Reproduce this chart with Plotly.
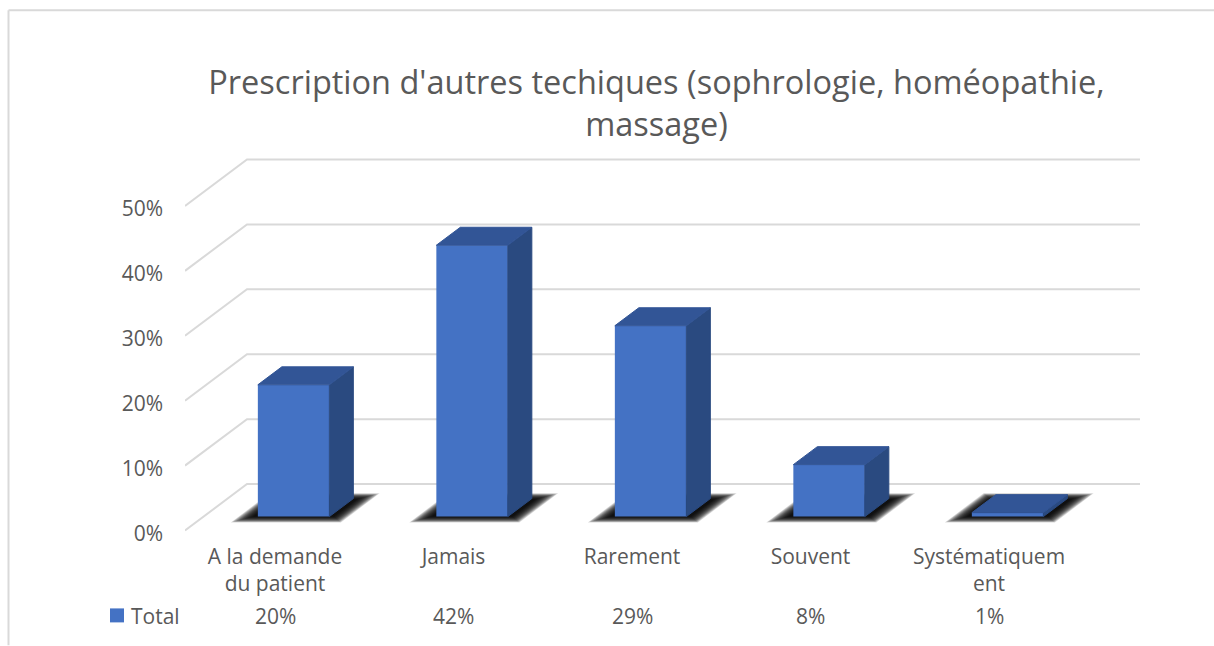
import plotly.graph_objects as go

# ---- data ----
categories = ["A la demande<br>du patient", "Jamais", "Rarement", "Souvent", "Systématiquem<br>ent"]
values = [20.3, 41.8, 29.4, 8.0, 0.6]
table_labels = ["20%", "42%", "29%", "8%", "1%"]
y_ticks = [0, 10, 20, 30, 40, 50]
y_tick_labels = ["0%", "10%", "20%", "30%", "40%", "50%"]
series_name = "Total"
title_text = "Prescription d'autres techiques (sophrologie, homéopathie,<br>massage)"

# ---- style / projection ----
W, H = 1214, 646
L, R, T, B = 185, 1140, 150, 531
PX_X = 178.5   # pixels per category
PX_Y = 6.5     # pixels per percent
Y_LOW = -1     # lower end of the value axis, leaves room for the label nudge
PLOT_B = B - Y_LOW * PX_Y
FONT = "Open Sans"
TXT = "#595959"
GRID = "#D9D9D9"
FRONT, SIDE, TOP = "#4472C4", "#2A4A80", "#325596"
LABEL_NUDGE = 3 / PX_Y  # the font's labels sit high; drop them to the reference position

DX = 62 / PX_X          # whole depth of the 3D box, in x units
DY = 46.5 / PX_Y        # whole depth of the 3D box, in y units
BAR_W = 71.5 / PX_X
D0, D1 = 0.30, 0.687    # bar depth extent (fraction of the box)


def proj(x, v, d):
    return x + DX * d, v + DY * d


def path(points):
    return "M " + " L ".join(f"{a:.4f},{b:.4f}" for a, b in points) + " Z"


def px(x):
    return (x - L) / (R - L)


def py(y):
    return (PLOT_B - y) / (PLOT_B - T)


x_pos = list(range(len(categories)))
xmin = (L - 275) / PX_X
xmax = (R - 275) / PX_X
ymax = (B - T) / PX_Y

shapes = []
# frame
for x0, y0, x1, y1 in [(8.5, 646, 8.5, 10), (8.5, 10, 1214, 10)]:
    shapes.append(dict(type="line", xref="paper", yref="paper",
                       x0=px(x0), x1=px(x1), y0=py(y0), y1=py(y1),
                       line=dict(color=GRID, width=2), layer="below"))
# legend key
shapes.append(dict(type="rect", xref="paper", yref="paper", x0=px(110), x1=px(124),
                   y0=py(623), y1=py(609), fillcolor=FRONT, line=dict(width=0)))
# gridlines (side wall + back wall)
for t in y_ticks:
    bx, by = proj(xmin, t, 1)
    shapes.append(dict(type="path", xref="x", yref="y", layer="below",
                       path=f"M {xmin:.4f},{t} L {bx:.4f},{by:.4f} L {xmax:.4f},{by:.4f}",
                       line=dict(color=GRID, width=2)))
# floor shadows (soft edge built from nested translucent layers)
for i in x_pos:
    for k in range(16):
        w = (55 - k * 1.0) / PX_X
        d_a, d_b = 0.175 + k * 0.0085, 0.80 - k * 0.0085
        pts = [proj(i - w, 0, d_a), proj(i + w, 0, d_a), proj(i + w, 0, d_b), proj(i - w, 0, d_b)]
        shapes.append(dict(type="path", xref="x", yref="y", layer="below", path=path(pts),
                           fillcolor="rgba(0,0,0,0.15)", line=dict(width=0)))

fig = go.Figure()

# front faces
shift_x, shift_y = proj(0, 0, D0)
fig.add_trace(go.Bar(x=[i + shift_x for i in x_pos], y=values, base=[shift_y] * len(values),
                     width=BAR_W, marker=dict(color=FRONT, line=dict(width=0)),
                     name=series_name, showlegend=False, hoverinfo="skip"))

# side and top faces
for i, v in zip(x_pos, values):
    l, r = i - BAR_W / 2, i + BAR_W / 2
    side = [proj(r, 0, D0), proj(r, 0, D1), proj(r, v, D1), proj(r, v, D0)]
    top = [proj(l, v, D0), proj(r, v, D0), proj(r, v, D1), proj(l, v, D1)]
    for poly, col in ((side, SIDE), (top, TOP)):
        fig.add_trace(go.Scatter(x=[p[0] for p in poly] + [poly[0][0]],
                                 y=[p[1] for p in poly] + [poly[0][1]],
                                 mode="lines", fill="toself", fillcolor=col,
                                 line=dict(color=col, width=1),
                                 showlegend=False, hoverinfo="skip"))

# legend name and data table row
annotations = [dict(x=i, y=py(617), xref="x", yref="paper", text=t, showarrow=False,
                    font=dict(family=FONT, size=21, color=TXT), xanchor="center", yanchor="middle")
               for i, t in zip(x_pos, table_labels)]
annotations.append(dict(x=px(129), y=py(617), xref="paper", yref="paper", text=series_name,
                        showarrow=False, font=dict(family=FONT, size=21, color=TXT),
                        xanchor="left", yanchor="middle"))

fig.update_layout(
    width=W, height=H, autosize=False, showlegend=False,
    margin=dict(l=L, r=W - R, t=T, b=H - PLOT_B, pad=0),
    paper_bgcolor="white", plot_bgcolor="rgba(0,0,0,0)",
    font=dict(family=FONT, size=21, color=TXT),
    title=dict(text=title_text, x=656.5 / W, xanchor="center", y=1 - 94 / H, yanchor="middle",
               font=dict(family=FONT, size=32.5, color=TXT)),
    barmode="overlay", shapes=shapes, annotations=annotations,
    xaxis=dict(range=[xmin, xmax], tickmode="array", tickvals=x_pos, ticktext=categories,
               showgrid=False, zeroline=False, showline=False, ticks="", ticklabelstandoff=5,
               tickfont=dict(family=FONT, size=21, color=TXT), tickangle=0),
    yaxis=dict(range=[Y_LOW, ymax], tickmode="array", tickvals=[t - LABEL_NUDGE for t in y_ticks],
               ticktext=y_tick_labels,
               showgrid=False, zeroline=False, showline=False, ticks="", ticklabelstandoff=21,
               tickfont=dict(family=FONT, size=21, color=TXT)),
)

fig.write_html("out.html", config={"displayModeBar": False},
               post_script="document.body.style.margin='0';")
